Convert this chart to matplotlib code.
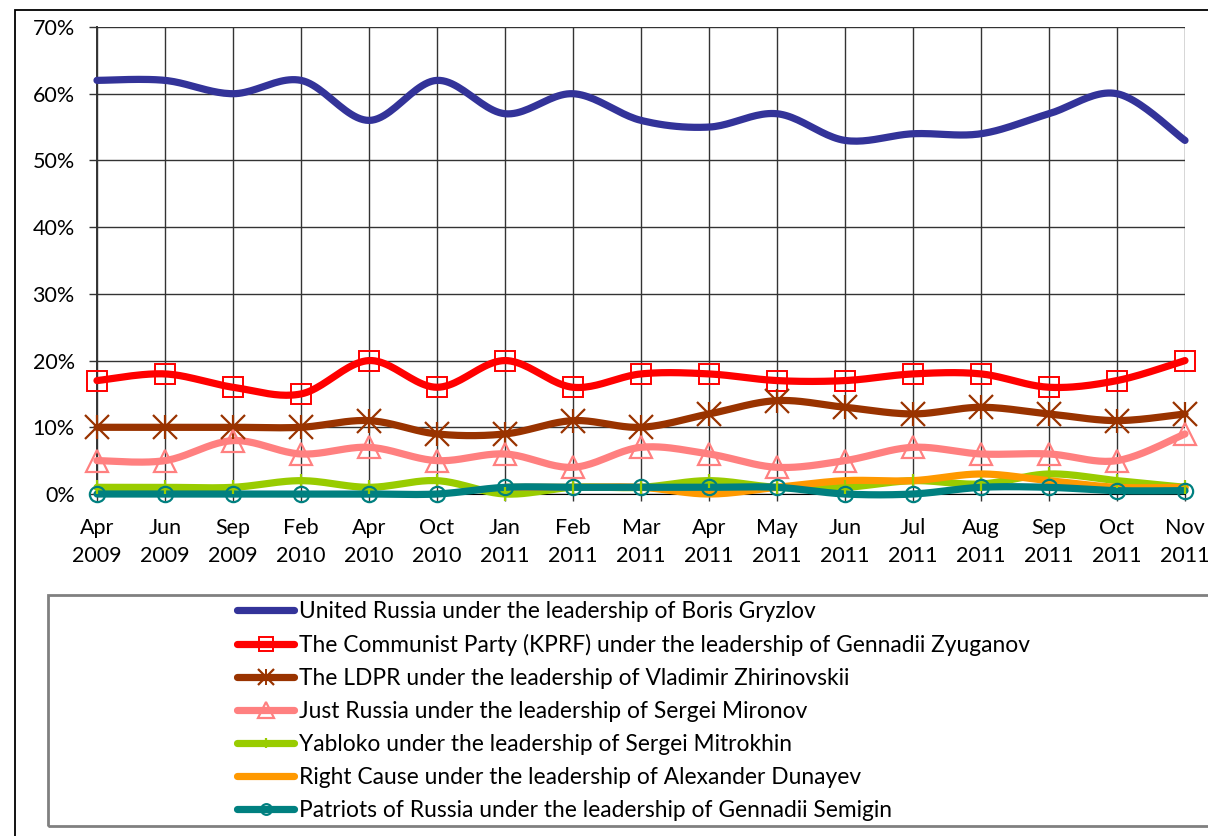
import numpy as np
import matplotlib.pyplot as plt
from matplotlib.patches import Rectangle
from matplotlib.lines import Line2D

months = ["Apr\n2009", "Jun\n2009", "Sep\n2009", "Feb\n2010", "Apr\n2010", "Oct\n2010",
          "Jan\n2011", "Feb\n2011", "Mar\n2011", "Apr\n2011", "May\n2011", "Jun\n2011",
          "Jul\n2011", "Aug\n2011", "Sep\n2011", "Oct\n2011", "Nov\n2011"]

united_russia = [62, 62, 60, 62, 56, 62, 57, 60, 56, 55, 57, 53, 54, 54, 57, 60, 53]
kprf = [17, 18, 16, 15, 20, 16, 20, 16, 18, 18, 17, 17, 18, 18, 16, 17, 20]
ldpr = [10, 10, 10, 10, 11, 9, 9, 11, 10, 12, 14, 13, 12, 13, 12, 11, 12]
just_russia = [5, 5, 8, 6, 7, 5, 6, 4, 7, 6, 4, 5, 7, 6, 6, 5, 9]
yabloko = [1, 1, 1, 2, 1, 2, 0, 1, 1, 2, 1, 1, 2, 1.5, 3, 2, 1]
right_cause = [None, None, None, None, None, None, 1, 1, 1, 0, 1, 2, 2, 3, 2, 1, 1]
patriots = [0, 0, 0, 0, 0, 0, 1, 1, 1, 1, 1, 0, 0, 1, 1, 0.5, 0.5]

labels = [
    "United Russia under the leadership of Boris Gryzlov",
    "The Communist Party (KPRF) under the leadership of Gennadii Zyuganov",
    "The LDPR under the leadership of Vladimir Zhirinovskii",
    "Just Russia under the leadership of Sergei Mironov",
    "Yabloko under the leadership of Sergei Mitrokhin",
    "Right Cause under the leadership of Alexander Dunayev",
    "Patriots of Russia under the leadership of Gennadii Semigin",
]


def smooth(xs, ys, n=24):
    # Excel-style smoothed line: Catmull-Rom as cubic Bezier segments
    xs = np.asarray(xs, float)
    ys = np.asarray(ys, float)
    px = np.concatenate([[xs[0]], xs, [xs[-1]]])
    py = np.concatenate([[ys[0]], ys, [ys[-1]]])
    t = np.linspace(0, 1, n)[:, None]
    out = []
    for i in range(len(xs) - 1):
        p0 = np.array([px[i], py[i]])
        p1 = np.array([px[i + 1], py[i + 1]])
        p2 = np.array([px[i + 2], py[i + 2]])
        p3 = np.array([px[i + 3], py[i + 3]])
        c1 = p1 + (p2 - p0) / 6
        c2 = p2 - (p3 - p1) / 6
        seg = ((1 - t) ** 3) * p1 + 3 * ((1 - t) ** 2) * t * c1 + 3 * (1 - t) * t ** 2 * c2 + t ** 3 * p2
        out.append(seg if i == 0 else seg[1:])
    out = np.vstack(out)
    return out[:, 0], out[:, 1]


W, H = 1208, 836
fig = plt.figure(figsize=(W / 100, H / 100), dpi=100)
fig.patch.set_facecolor("white")

tick_font = ["Lato", "DejaVu Sans"]
leg_font = ["Lato", "DejaVu Sans"]

# outer chart border
fig.add_artist(Rectangle((15 / W, 0 - 0.01), 1.1, 1 - 10 / H + 0.01, transform=fig.transFigure,
                         fill=False, edgecolor="black", linewidth=1.3))

ax = fig.add_axes([97 / W, 1 - 494 / H, (1185 - 97) / W, (494 - 27) / H])
ax.set_xlim(0, len(months) - 1)
ax.set_ylim(0, 70)
ax.set_yticks(range(0, 71, 10))
ax.set_yticklabels([f"{v}%" for v in range(0, 71, 10)], family=tick_font, fontsize=15.5)
ax.set_xticks(range(len(months)))
ax.set_xticklabels(months, family=tick_font, fontsize=15.5, linespacing=1.5)
ax.tick_params(axis="x", length=5, width=1, pad=12, color="#333333")
ax.tick_params(axis="y", length=6, width=1, pad=10, color="#333333")
ax.grid(True, color="#333333", linewidth=1)
ax.set_axisbelow(True)
for s in ax.spines.values():
    s.set_visible(False)
ax.spines["left"].set_visible(True)
ax.spines["left"].set_color("#333333")
ax.spines["left"].set_linewidth(1.4)
ax.spines["bottom"].set_visible(True)
ax.spines["bottom"].set_color("black")

lw = 5.2

series = [
    (united_russia, "#333399", dict(marker=None)),
    (kprf, "#FF0000", dict(marker="s", ms=15, mfc="none", mec="#FF0000", mew=1.4)),
    (ldpr, "#993300", dict(marker="x", ms=17, mec="#993300", mew=1.6)),
    (just_russia, "#FF8080", dict(marker="^", ms=16, mfc="none", mec="#FF8080", mew=1.6)),
    (yabloko, "#99CC00", dict(marker="|", ms=10, mec="#99CC00", mew=1.6)),
    (right_cause, "#FF9900", dict(marker=None)),
    (patriots, "#008080", dict(marker="o", ms=11, mfc="none", mec="#008080", mew=1.6)),
]

handles = []
for vals, color, mk in series:
    xv = np.array([i for i, v in enumerate(vals) if v is not None], float)
    yv = np.array([v for v in vals if v is not None], float)
    sx, sy = smooth(xv, yv)
    ax.plot(sx, sy, color=color, linewidth=lw, solid_capstyle="round", clip_on=False, zorder=3)
    if mk["marker"] is not None:
        ax.plot(xv, yv, linestyle="none", clip_on=False, zorder=4, **mk)
    line = Line2D([], [], color=color, linewidth=lw, solid_capstyle="round",
                  **{k: v for k, v in mk.items() if k != "ms"},
                  ms=mk.get("ms", 10) * 0.7 if mk["marker"] else 0)
    if color == "#993300":
        ax.plot(xv, yv, linestyle="none", marker="|", ms=17, mec=color, mew=1.6, clip_on=False, zorder=4)
        extra = Line2D([], [], linestyle="none", marker="|", ms=12, mec=color, mew=1.4)
        handles.append((line, extra))
    else:
        handles.append(line)

# legend box
fig.add_artist(Rectangle((48 / W, 1 - 826 / H), 1.1, (826 - 595) / H, transform=fig.transFigure,
                         fill=False, edgecolor="#808080", linewidth=2))
fig.legend(handles, labels, loc="upper left", bbox_to_anchor=(226 / W, 1 - 590 / H),
           frameon=False, prop={"family": leg_font, "size": 16.4},
           handlelength=2.5, handletextpad=0.2, labelspacing=0.52, borderpad=0)

fig.savefig("out.png", dpi=100)
